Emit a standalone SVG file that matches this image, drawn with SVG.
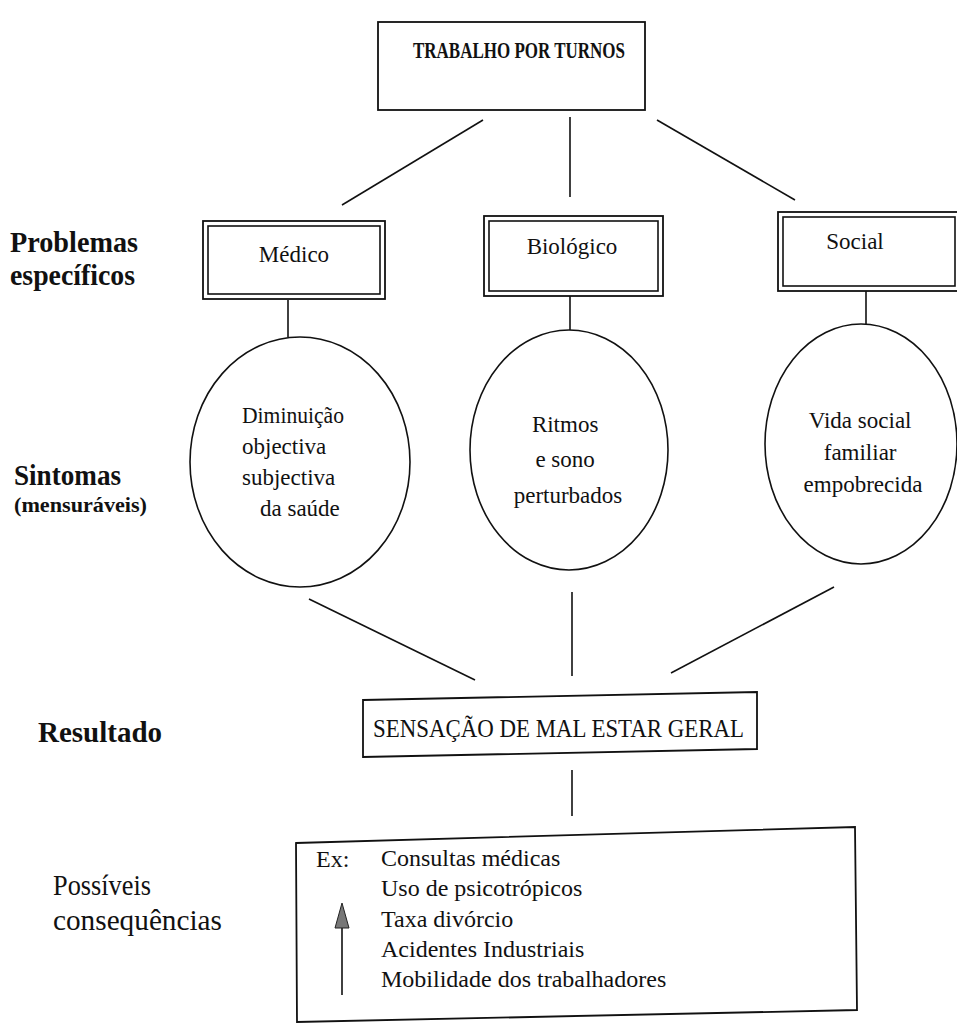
<svg xmlns="http://www.w3.org/2000/svg" width="957" height="1028" viewBox="0 0 957 1028">
<style>
.ln{stroke:#111;stroke-width:1.6;fill:none}
.bx{stroke:#111;stroke-width:1.8;fill:#fff}
.t{font-family:"Liberation Serif",serif;fill:#111}
.b{font-weight:bold}
</style>
<rect width="957" height="1028" fill="#fff"/>
<g id="connectors">
<line class="ln" x1="483" y1="120" x2="342" y2="205"/>
<line class="ln" x1="570" y1="117" x2="570" y2="197"/>
<line class="ln" x1="657" y1="120" x2="795" y2="200"/>
<line class="ln" x1="288" y1="300" x2="288" y2="337"/>
<line class="ln" x1="570" y1="296" x2="570" y2="330"/>
<line class="ln" x1="866" y1="291" x2="866" y2="324"/>
<line class="ln" x1="309" y1="599" x2="475" y2="680"/>
<line class="ln" x1="572" y1="592" x2="572" y2="676"/>
<line class="ln" x1="834" y1="587" x2="671" y2="673"/>
<line class="ln" x1="572" y1="770" x2="572" y2="816"/>
</g>
<g id="trabalho">
<rect class="bx" x="378" y="22" width="267" height="88"/>
<text class="t b" x="413" y="58" font-size="24" textLength="212" lengthAdjust="spacingAndGlyphs">TRABALHO POR TURNOS</text>
</g>
<g id="lbl-problemas">
<text class="t b" x="10" y="252" font-size="29" textLength="128" lengthAdjust="spacingAndGlyphs">Problemas</text>
<text class="t b" x="10" y="285" font-size="29" textLength="125" lengthAdjust="spacingAndGlyphs">específicos</text>
</g>
<g id="medico">
<rect class="bx" x="203" y="221" width="182" height="78"/>
<rect class="ln" x="208" y="226" width="172" height="68"/>
<text class="t" x="294" y="262" font-size="23" text-anchor="middle">Médico</text>
</g>
<g id="biologico">
<rect class="bx" x="484" y="216" width="179" height="80"/>
<rect class="ln" x="489" y="221" width="169" height="70"/>
<text class="t" x="572" y="254" font-size="23" text-anchor="middle">Biológico</text>
</g>
<g id="social">
<rect class="bx" x="778" y="212" width="182" height="79"/>
<rect class="ln" x="783" y="217" width="172" height="69"/>
<text class="t" x="855" y="249" font-size="23" text-anchor="middle">Social</text>
</g>
<g id="lbl-sintomas">
<text class="t b" x="14" y="485" font-size="29" textLength="107" lengthAdjust="spacingAndGlyphs">Sintomas</text>
<text class="t b" x="14" y="512" font-size="21" textLength="133" lengthAdjust="spacingAndGlyphs">(mensuráveis)</text>
</g>
<g id="diminuicao">
<ellipse class="ln" cx="300" cy="462" rx="110" ry="125"/>
<text class="t" font-size="23">
<tspan x="242" y="423" textLength="102" lengthAdjust="spacingAndGlyphs">Diminuição</tspan>
<tspan x="242" y="454">objectiva</tspan>
<tspan x="242" y="485">subjectiva</tspan>
<tspan x="260" y="516">da saúde</tspan>
</text>
</g>
<g id="ritmos">
<ellipse class="ln" cx="569" cy="450" rx="99" ry="120"/>
<text class="t" font-size="23" text-anchor="middle">
<tspan x="568" y="432">Ritmos</tspan>
<tspan x="568" y="467">e sono</tspan>
<tspan x="568" y="503">perturbados</tspan>
</text>
</g>
<g id="vida">
<ellipse class="ln" cx="861" cy="444" rx="96" ry="120"/>
<text class="t" font-size="23" text-anchor="middle">
<tspan x="863" y="428">Vida social</tspan>
<tspan x="863" y="460">familiar</tspan>
<tspan x="863" y="492">empobrecida</tspan>
</text>
</g>
<g id="lbl-resultado">
<text class="t b" x="38" y="742" font-size="29" textLength="124" lengthAdjust="spacingAndGlyphs">Resultado</text>
</g>
<g id="sensacao">
<path class="bx" d="M363,700 L757,692 L757,749 L363,757 Z"/>
<text class="t" x="373" y="737" font-size="25" textLength="371" lengthAdjust="spacingAndGlyphs">SENSAÇÃO DE MAL ESTAR GERAL</text>
</g>
<g id="lbl-consequencias">
<text class="t" x="53" y="895" font-size="29" textLength="98" lengthAdjust="spacingAndGlyphs">Possíveis</text>
<text class="t" x="53" y="930" font-size="29" textLength="169" lengthAdjust="spacingAndGlyphs">consequências</text>
</g>
<g id="consequencias">
<path class="bx" d="M296,843 L855,827 L857,1010 L297,1022 Z"/>
<text class="t" x="316" y="867" font-size="24">Ex:</text>
<text class="t" font-size="24">
<tspan x="381" y="866">Consultas médicas</tspan>
<tspan x="381" y="896">Uso de psicotrópicos</tspan>
<tspan x="381" y="927">Taxa divórcio</tspan>
<tspan x="381" y="957">Acidentes Industriais</tspan>
<tspan x="381" y="987">Mobilidade dos trabalhadores</tspan>
</text>
<line class="ln" x1="342" y1="995" x2="342" y2="928"/>
<path d="M342,903 L335,928 L349,928 Z" fill="#777" stroke="#222" stroke-width="1"/>
</g>
</svg>
